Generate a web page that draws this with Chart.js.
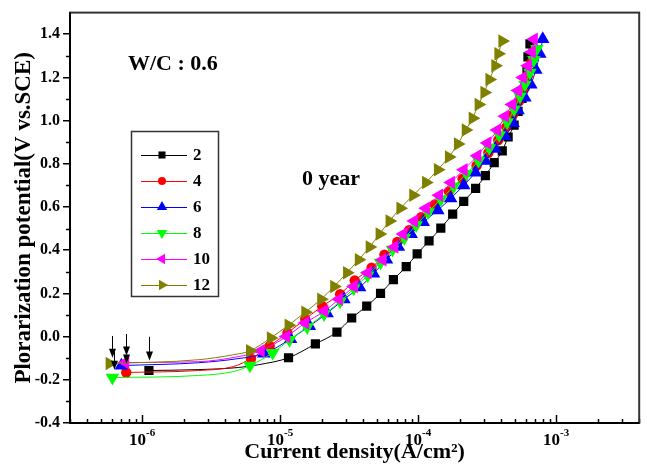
<!DOCTYPE html>
<html>
<head>
<title>Polarization curves</title>
<script src="https://cdn.jsdelivr.net/npm/chart.js@4.4.0/dist/chart.umd.min.js"></script>
<style>
  html, body { margin: 0; padding: 0; background: #fff; }
  #wrap { width: 647px; height: 466px; }
</style>
</head>
<body>
<div id="wrap"><canvas id="myCanvas" width="647" height="466"></canvas></div>
<script>
// current density (A/cm2) and potential (V vs. SCE) for each curve
// guide = indices of points on the fitted line that carry no marker
var j2 = [1.12e-6, 2.5e-6, 5.0e-6, 7.0e-6, 1.15e-5, 1.8e-5, 2.58e-5, 3.3e-5, 4.24e-5, 5.34e-5, 6.62e-5, 8.2e-5, 9.84e-5, 1.2e-4, 1.46e-4, 1.78e-4, 2.14e-4, 2.61e-4, 3.07e-4, 3.56e-4, 4.07e-4, 4.49e-4, 4.96e-4, 5.3e-4, 5.66e-4, 5.94e-4, 6.15e-4, 6.25e-4, 6.46e-4];
var e2 = [-0.157, -0.153, -0.143, -0.13, -0.098, -0.034, 0.021, 0.086, 0.141, 0.200, 0.264, 0.324, 0.383, 0.443, 0.502, 0.567, 0.626, 0.686, 0.745, 0.805, 0.86, 0.924, 0.979, 1.043, 1.103, 1.162, 1.231, 1.295, 1.355];
var guide2 = [1, 2, 3];

var j4 = [7.67e-7, 2.56e-6, 4.57e-6, 6.15e-6, 8.4e-6, 1.13e-5, 1.52e-5, 2.02e-5, 2.72e-5, 3.47e-5, 4.6e-5, 5.7e-5, 7.06e-5, 8.6e-5, 1.05e-4, 1.32e-4, 1.67e-4, 2.1e-4, 2.65e-4, 3.23e-4, 3.81e-4, 4.35e-4, 4.88e-4, 5.38e-4, 5.85e-4, 6.25e-4, 6.67e-4, 7.0e-4];
var e4 = [-0.166, -0.157, -0.139, -0.102, -0.043, 0.017, 0.081, 0.141, 0.196, 0.26, 0.319, 0.379, 0.438, 0.493, 0.553, 0.612, 0.672, 0.731, 0.791, 0.851, 0.91, 0.97, 1.029, 1.089, 1.148, 1.208, 1.272, 1.327];
var guide4 = [1, 2];

var j6 = [7.07e-7, 2.56e-6, 4.95e-6, 7.62e-6, 1.19e-5, 1.63e-5, 2.19e-5, 2.9e-5, 3.77e-5, 4.75e-5, 5.9e-5, 7.2e-5, 8.9e-5, 1.09e-4, 1.39e-4, 1.72e-4, 2.14e-4, 2.6e-4, 3.07e-4, 3.62e-4, 4.27e-4, 4.88e-4, 5.3e-4, 5.94e-4, 6.56e-4, 7.13e-4, 7.62e-4, 8.0e-4];
var e6 = [-0.134, -0.121, -0.102, -0.079, -0.011, 0.049, 0.108, 0.173, 0.228, 0.292, 0.356, 0.415, 0.475, 0.53, 0.585, 0.64, 0.70, 0.759, 0.814, 0.869, 0.928, 0.988, 1.048, 1.107, 1.167, 1.235, 1.309, 1.377];
var guide6 = [1, 2];

var j8 = [6.09e-7, 2.56e-6, 4.57e-6, 6.04e-6, 8.83e-6, 1.17e-5, 1.57e-5, 2.08e-5, 2.72e-5, 3.42e-5, 4.31e-5, 5.34e-5, 6.52e-5, 7.94e-5, 9.68e-5, 1.18e-4, 1.46e-4, 1.81e-4, 2.24e-4, 2.74e-4, 3.28e-4, 3.87e-4, 4.42e-4, 4.96e-4, 5.47e-4, 5.94e-4, 6.45e-4, 6.9e-4, 7.25e-4];
var e8 = [-0.19, -0.18, -0.162, -0.134, -0.075, -0.015, 0.044, 0.104, 0.163, 0.223, 0.283, 0.342, 0.402, 0.457, 0.516, 0.576, 0.635, 0.695, 0.754, 0.814, 0.873, 0.933, 0.993, 1.052, 1.112, 1.167, 1.222, 1.281, 1.332];
var guide8 = [1, 2];

var j10 = [7.55e-7, 2.56e-6, 4.95e-6, 7.25e-6, 1.11e-5, 1.52e-5, 2.09e-5, 2.67e-5, 3.42e-5, 4.31e-5, 5.52e-5, 6.73e-5, 7.8e-5, 9.35e-5, 1.14e-4, 1.42e-4, 1.73e-4, 2.14e-4, 2.69e-4, 3.18e-4, 3.74e-4, 4.27e-4, 4.8e-4, 5.3e-4, 5.75e-4, 6.25e-4, 6.67e-4, 6.9e-4];
var e10 = [-0.12, -0.116, -0.093, -0.066, 0.0, 0.063, 0.118, 0.173, 0.232, 0.296, 0.356, 0.415, 0.475, 0.535, 0.594, 0.654, 0.713, 0.773, 0.837, 0.896, 0.956, 1.02, 1.075, 1.139, 1.199, 1.254, 1.318, 1.377];
var guide10 = [1, 2];

var j12 = [5.8e-7, 2.56e-6, 4.57e-6, 6.04e-6, 8.55e-6, 1.15e-5, 1.52e-5, 1.98e-5, 2.46e-5, 3.05e-5, 3.71e-5, 4.45e-5, 5.25e-5, 6.2e-5, 7.43e-5, 9.2e-5, 1.14e-4, 1.39e-4, 1.67e-4, 1.94e-4, 2.21e-4, 2.48e-4, 2.74e-4, 3.02e-4, 3.28e-4, 3.62e-4, 3.81e-4, 4.07e-4];
var e12 = [-0.125, -0.107, -0.084, -0.066, -0.006, 0.053, 0.113, 0.173, 0.232, 0.296, 0.356, 0.415, 0.475, 0.535, 0.594, 0.654, 0.713, 0.773, 0.832, 0.892, 0.956, 1.011, 1.075, 1.13, 1.19, 1.254, 1.309, 1.368];
var guide12 = [1, 2];

// corrosion potential arrows: current density, arrow start and tip potential
var arrowJ = [6.0e-7, 6.3e-7, 7.6e-7, 7.6e-7, 1.13e-6];
var arrowFrom = [0.003, -0.07, 0.012, -0.088, -0.001];
var arrowTo = [-0.098, -0.153, -0.088, -0.125, -0.111];

var seriesNames = ['2', '4', '6', '8', '10', '12'];
var xDecades = [-6, -5, -4, -3];

var serif = '"Liberation Serif", "Times New Roman", serif';

var series = [
  {j: j2, e: e2, guide: guide2, color: '#000000', style: 'rect', rot: 0, r: 6.5, lr: 5},
  {j: j4, e: e4, guide: guide4, color: '#ff0000', style: 'circle', rot: 0, r: 5.2, lr: 4},
  {j: j6, e: e6, guide: guide6, color: '#0000ff', style: 'triangle', rot: 0, r: 7.8, lr: 6},
  {j: j8, e: e8, guide: guide8, color: '#00ff00', style: 'triangle', rot: 180, r: 7.8, lr: 6},
  {j: j10, e: e10, guide: guide10, color: '#ff00ff', style: 'triangle', rot: 270, r: 7.8, lr: 6},
  {j: j12, e: e12, guide: guide12, color: '#808000', style: 'triangle', rot: 90, r: 7.8, lr: 6}
];

var datasets = series.map(function(s, i) {
  return {
    label: seriesNames[i],
    data: s.j.map(function(v, k) { return {x: v, y: s.e[k]}; }),
    borderColor: s.color,
    backgroundColor: s.color,
    borderWidth: 1,
    pointStyle: s.style,
    pointRotation: s.rot,
    pointBorderWidth: 0,
    pointRadius: function(ctx) { return s.guide.indexOf(ctx.dataIndex) >= 0 ? 0 : s.r; },
    cubicInterpolationMode: 'monotone',
    order: series.length - i
  };
});

// frame, inward log ticks with superscript labels, minor y ticks
var axisExtras = {
  id: 'axisExtras',
  afterDraw: function(chart) {
    var ctx = chart.ctx, a = chart.chartArea;
    var xs = chart.scales.x, ys = chart.scales.y;
    ctx.save();
    ctx.strokeStyle = '#000';
    ctx.lineWidth = 1.5;
    for (var d = -7; d <= -2; d++) {
      for (var m = 1; m <= 9; m++) {
        var v = m * Math.pow(10, d);
        if (v < xs.min || v > xs.max) continue;
        var px = Math.round(xs.getPixelForValue(v)) + 0.5;
        var len = m === 1 ? 8 : 4;
        ctx.beginPath();
        ctx.moveTo(px, a.bottom);
        ctx.lineTo(px, a.bottom - len);
        ctx.stroke();
      }
    }
    for (var t = -0.3; t < 1.45; t += 0.2) {
      var py = Math.round(ys.getPixelForValue(t)) + 0.5;
      ctx.beginPath();
      ctx.moveTo(a.left, py);
      ctx.lineTo(a.left - 4, py);
      ctx.stroke();
    }
    ctx.lineWidth = 2;
    ctx.strokeStyle = '#333';
    ctx.strokeRect(a.left, a.top, a.right - a.left, a.bottom - a.top);
    ctx.strokeStyle = '#000';
    ctx.beginPath();
    ctx.moveTo(a.left, a.top);
    ctx.lineTo(a.left, a.bottom);
    ctx.lineTo(a.right, a.bottom);
    ctx.stroke();

    ctx.fillStyle = '#000';
    ctx.textBaseline = 'alphabetic';
    xDecades.forEach(function(d) {
      var px = xs.getPixelForValue(Math.pow(10, d));
      ctx.font = 'bold 17px ' + serif;
      var w1 = ctx.measureText('10').width;
      ctx.font = 'bold 11px ' + serif;
      var sup = '-' + Math.abs(d);
      var w2 = ctx.measureText(sup).width;
      var x0 = px - (w1 + w2) / 2;
      ctx.font = 'bold 17px ' + serif;
      ctx.fillText('10', x0, a.bottom + 22);
      ctx.font = 'bold 11px ' + serif;
      ctx.fillText(sup, x0 + w1, a.bottom + 13);
    });
    ctx.restore();
  }
};

// arrows, annotations and the boxed legend
var notes = {
  id: 'notes',
  afterDatasetsDraw: function(chart) {
    var ctx = chart.ctx;
    var xs = chart.scales.x, ys = chart.scales.y;
    ctx.save();
    ctx.strokeStyle = '#000';
    ctx.fillStyle = '#000';
    ctx.lineWidth = 1;
    arrowJ.forEach(function(v, i) {
      var x = Math.round(xs.getPixelForValue(v)) + 0.5;
      var y0 = ys.getPixelForValue(arrowFrom[i]);
      var y1 = ys.getPixelForValue(arrowTo[i]);
      ctx.beginPath();
      ctx.moveTo(x, y0);
      ctx.lineTo(x, y1 - 6);
      ctx.stroke();
      ctx.beginPath();
      ctx.moveTo(x - 3.5, y1 - 9);
      ctx.lineTo(x + 3.5, y1 - 9);
      ctx.lineTo(x, y1);
      ctx.closePath();
      ctx.fill();
    });

    ctx.font = 'bold 22px ' + serif;
    ctx.textBaseline = 'alphabetic';
    ctx.fillText('W/C : 0.6', 128, 70);
    ctx.fillText('0 year', 302, 185);

    // legend
    ctx.lineWidth = 1.5;
    ctx.strokeStyle = '#333';
    ctx.strokeRect(131.5, 131.5, 87, 165);
    ctx.font = 'bold 17px ' + serif;
    ctx.textBaseline = 'middle';
    series.forEach(function(s, i) {
      var y = 155 + i * 26;
      ctx.strokeStyle = s.color;
      ctx.fillStyle = s.color;
      ctx.lineWidth = 1;
      ctx.beginPath();
      ctx.moveTo(141, y + 0.5);
      ctx.lineTo(187, y + 0.5);
      ctx.stroke();
      Chart.helpers.drawPoint(ctx, {pointStyle: s.style, rotation: s.rot, radius: s.lr, borderWidth: 0}, 162, y);
      ctx.fillStyle = '#000';
      ctx.fillText(seriesNames[i], 193, y + 1);
    });
    ctx.restore();
  }
};

new Chart(document.getElementById('myCanvas'), {
  type: 'line',
  data: { datasets: datasets },
  options: {
    responsive: false,
    animation: false,
    devicePixelRatio: 1,
    layout: { padding: { top: 8, right: 4, left: 0, bottom: 0 } },
    plugins: { legend: { display: false }, tooltip: { enabled: false } },
    scales: {
      x: {
        type: 'logarithmic',
        min: 3e-7,
        max: 4e-3,
        ticks: { display: false },
        grid: { display: false },
        border: { display: false },
        title: {
          display: true,
          text: 'Current density(A/cm²)',
          color: '#000',
          font: { family: serif, size: 22, weight: 'bold' },
          padding: { top: 0, bottom: 0 }
        },
        afterFit: function(s) { s.height = 43; }
      },
      y: {
        type: 'linear',
        min: -0.4,
        max: 1.5,
        ticks: {
          stepSize: 0.2,
          includeBounds: false,
          color: '#000',
          padding: 3,
          font: { family: serif, size: 16, weight: 'bold' },
          callback: function(v) { return Math.abs(v) < 1e-9 ? '0.0' : v.toFixed(1); }
        },
        grid: { drawOnChartArea: false, tickLength: 7, color: '#000', lineWidth: 1.5 },
        border: { display: false },
        title: {
          display: true,
          text: 'Plorarization potential(V vs.SCE)',
          color: '#000',
          font: { family: serif, size: 23, weight: 'bold' },
          padding: { top: 10, bottom: 0 }
        },
        afterFit: function(s) { s.width = 70; }
      }
    }
  },
  plugins: [axisExtras, notes]
});
</script>
</body>
</html>
